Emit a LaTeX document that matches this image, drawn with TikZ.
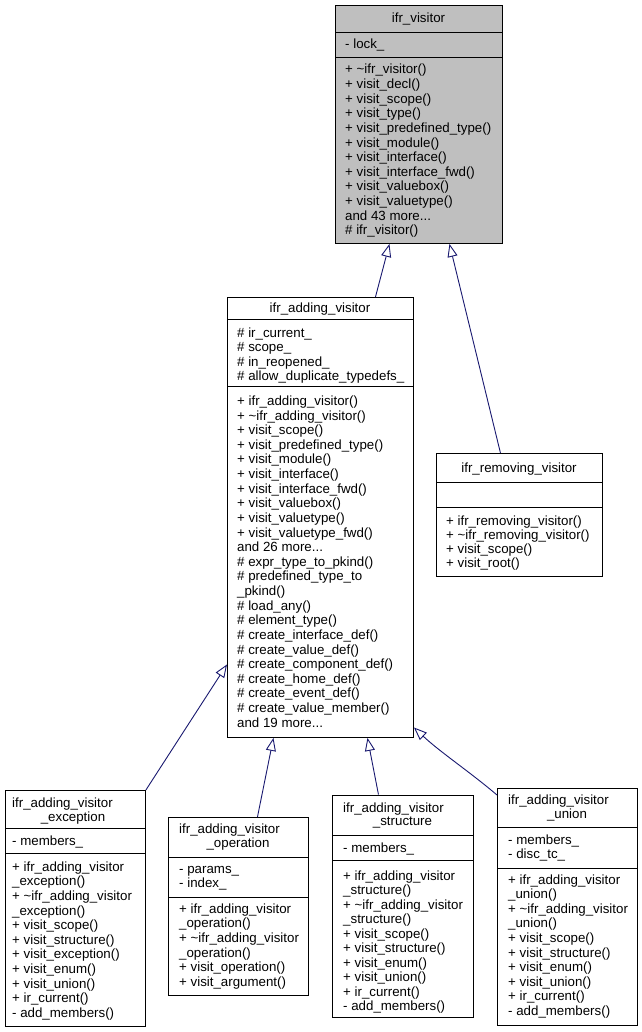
\documentclass[tikz,border=0pt]{standalone}
\usepackage{fontspec}
\setmainfont{Liberation Sans}
\usetikzlibrary{arrows.meta}
\definecolor{edgeblue}{RGB}{25,25,112}
\definecolor{focusgray}{RGB}{191,191,191}
\newcommand\mdots{...}
\tikzset{
  classbox/.style={draw=black, line width=0.9pt, inner sep=0pt, anchor=north west},
  sepline/.style={draw=black, line width=0.9pt},
  ln/.style={inner sep=0pt, anchor=base west, font=\fontsize{13.3}{14.6}\selectfont},
  ttl/.style={inner sep=0pt, anchor=base, font=\fontsize{13.3}{14.6}\selectfont},
  inh/.style={draw=edgeblue, line width=0.9pt, -{Triangle[open, length=13pt, width=10pt]}},
}
\newcommand\classlines[5]{%
  \foreach [count=\i] \ltext in {#5} {\node[ln] (#1\i) at (#2,{#3+4+(\i-1)*#4}) {\ltext};}}
\begin{document}
\begin{tikzpicture}[x=1pt,y=-1pt]
\fill[white] (0,0) rectangle (641,1032);
\useasboundingbox (0,0) rectangle (641,1032);

% ifr_visitor
\node[classbox, fill=focusgray, minimum width=167pt, minimum height=238pt] (visitor) at (335,5) {};
\draw[sepline] (335,32) -- (502,32);
\draw[sepline] (335,57) -- (502,57);
\node[ttl] (visitor-t) at (418.5,23) {ifr\_visitor};
\classlines{visitor-a}{345}{44.5}{14.62}{- lock\_}
\classlines{visitor-m}{345}{70}{14.62}{+ \textasciitilde ifr\_visitor(), + visit\_decl(), + visit\_scope(), + visit\_type(), + visit\_predefined\_type(), + visit\_module(), + visit\_interface(), + visit\_interface\_fwd(), + visit\_valuebox(), + visit\_valuetype(), and 43 more\mdots, \# ifr\_visitor()}

% ifr_adding_visitor
\node[classbox, fill=white, minimum width=186pt, minimum height=440pt] (adding) at (227,297) {};
\draw[sepline] (227,319.5) -- (413,319.5);
\draw[sepline] (227,386.5) -- (413,386.5);
\node[ttl] (adding-t) at (320,312) {ifr\_adding\_visitor};
\classlines{adding-a}{237}{333.3}{14.5}{\# ir\_current\_, \# scope\_, \# in\_reopened\_, \# allow\_duplicate\_typedefs\_}
\classlines{adding-m}{237}{401.5}{14.62}{+ ifr\_adding\_visitor(), + \textasciitilde ifr\_adding\_visitor(), + visit\_scope(), + visit\_predefined\_type(), + visit\_module(), + visit\_interface(), + visit\_interface\_fwd(), + visit\_valuebox(), + visit\_valuetype(), + visit\_valuetype\_fwd(), and 26 more\mdots, \# expr\_type\_to\_pkind(), \# predefined\_type\_to, \_pkind(), \# load\_any(), \# element\_type(), \# create\_interface\_def(), \# create\_value\_def(), \# create\_component\_def(), \# create\_home\_def(), \# create\_event\_def(), \# create\_value\_member(), and 19 more\mdots}

% ifr_removing_visitor
\node[classbox, fill=white, minimum width=166pt, minimum height=123pt] (removing) at (436,453) {};
\draw[sepline] (436,482) -- (602,482);
\draw[sepline] (436,507) -- (602,507);
\node[ttl] (removing-t) at (519,472) {ifr\_removing\_visitor};
\classlines{removing-m}{446}{521}{14.2}{+ ifr\_removing\_visitor(), + \textasciitilde ifr\_removing\_visitor(), + visit\_scope(), + visit\_root()}

% ifr_adding_visitor_exception
\node[classbox, fill=white, minimum width=140pt, minimum height=236pt] (exception) at (5,790) {};
\draw[sepline] (5,828.5) -- (145,828.5);
\draw[sepline] (5,853) -- (145,853);
\node[ln] (exception-t1) at (12,807.3) {ifr\_adding\_visitor};
\node[ttl] (exception-t2) at (73,821.3) {\_exception};
\classlines{exception-a}{12}{841.7}{14.6}{- members\_}
\classlines{exception-m}{12}{867.3}{14.6}{+ ifr\_adding\_visitor, \_exception(), + \textasciitilde ifr\_adding\_visitor, \_exception(), + visit\_scope(), + visit\_structure(), + visit\_exception(), + visit\_enum(), + visit\_union(), + ir\_current(), - add\_members()}

% ifr_adding_visitor_operation
\node[classbox, fill=white, minimum width=140pt, minimum height=178pt] (operation) at (168,817) {};
\draw[sepline] (168,857.5) -- (308,857.5);
\draw[sepline] (168,897.5) -- (308,897.5);
\node[ln] (operation-t1) at (179,833.3) {ifr\_adding\_visitor};
\node[ttl] (operation-t2) at (238,847.3) {\_operation};
\classlines{operation-a}{179}{869.3}{14}{- params\_, - index\_}
\classlines{operation-m}{179}{909.3}{14.6}{+ ifr\_adding\_visitor, \_operation(), + \textasciitilde ifr\_adding\_visitor, \_operation(), + visit\_operation(), + visit\_argument()}

% ifr_adding_visitor_structure
\node[classbox, fill=white, minimum width=141pt, minimum height=222.5pt] (structure) at (332,794.5) {};
\draw[sepline] (332,835) -- (473,835);
\draw[sepline] (332,860) -- (473,860);
\node[ln] (structure-t1) at (343,812.3) {ifr\_adding\_visitor};
\node[ttl] (structure-t2) at (402.5,825.7) {\_structure};
\classlines{structure-a}{343}{848.3}{14.5}{- members\_}
\classlines{structure-m}{343}{876}{14.5}{+ ifr\_adding\_visitor, \_structure(), + \textasciitilde ifr\_adding\_visitor, \_structure(), + visit\_scope(), + visit\_structure(), + visit\_enum(), + visit\_union(), + ir\_current(), - add\_members()}

% ifr_adding_visitor_union
\node[classbox, fill=white, minimum width=140pt, minimum height=237pt] (union) at (497,788) {};
\draw[sepline] (497,827.5) -- (637,827.5);
\draw[sepline] (497,868.5) -- (637,868.5);
\node[ln] (union-t1) at (508,804.7) {ifr\_adding\_visitor};
\node[ttl] (union-t2) at (567,818) {\_union};
\classlines{union-a}{508}{840.7}{13.3}{- members\_, - disc\_tc\_}
\classlines{union-m}{508}{880}{14.62}{+ ifr\_adding\_visitor, \_union(), + \textasciitilde ifr\_adding\_visitor, \_union(), + visit\_scope(), + visit\_structure(), + visit\_enum(), + visit\_union(), + ir\_current(), - add\_members()}

% inheritance connectors
\draw[inh] ([xshift=55pt]adding.north) -- ([xshift=-29.5pt]visitor.south);
\draw[inh] ([xshift=-19pt]removing.north) -- ([xshift=30.5pt]visitor.south);
\draw[inh] (exception.north east) -- ([yshift=-147pt]adding.west);
\draw[inh] ([xshift=19pt]operation.north) -- ([xshift=-47pt]adding.south);
\draw[inh] ([xshift=-24.5pt]structure.north) -- ([xshift=47pt]adding.south);
\draw[inh] ([yshift=-7pt]union.north west) .. controls (470,772) and (440,752) .. ([yshift=-210pt]adding.east);
\end{tikzpicture}
\end{document}
